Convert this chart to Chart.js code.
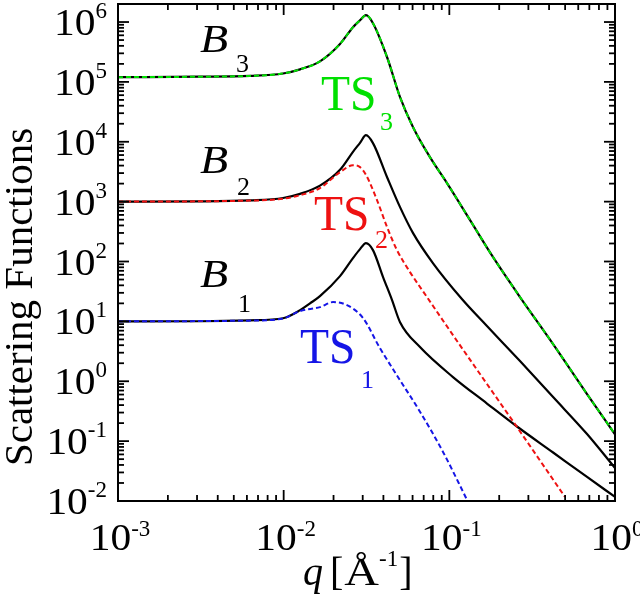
<!DOCTYPE html>
<html><head><meta charset="utf-8">
<script src="https://cdn.jsdelivr.net/npm/chart.js@4"></script>
<style>html,body{margin:0;padding:0;background:#fff;overflow:hidden}canvas{display:block}
#probe{position:absolute;left:-999px;top:0;font-family:"Liberation Serif";}
#probe i{font-style:italic}</style>
</head><body>
<span id="probe">10 <i>Bq</i> TS Å</span>
<canvas id="c" width="640" height="595"></canvas>
<script>
// ---- data ----
const qB3  = [0.001,0.00313,0.00627,0.00991,0.01256,0.01656,0.02188,0.0262,0.0289,0.0314,0.0346,0.0421,0.0504,0.0604,0.0764,0.0968,0.1334,0.1837,0.267,0.423,0.678,1.0];
const B3   = [1.2e5,1.22e5,1.26e5,1.38e5,1.62e5,2.2e5,4.3e5,8.2e5,1.07e6,1.3e6,9.55e5,2.58e5,5.56e4,1.75e4,5.53e3,2.04e3,491,118,25.5,4.18,0.611,0.13];
const qTS3 = [0.001,0.00313,0.00627,0.00991,0.01256,0.01656,0.02188,0.0262,0.0289,0.0314,0.0346,0.0421,0.0504,0.0604,0.0764,0.0968,0.1334,0.1837,0.267,0.423,0.678,1.0];
const TS3  = [1.2e5,1.22e5,1.26e5,1.38e5,1.62e5,2.2e5,4.3e5,8.2e5,1.07e6,1.3e6,9.55e5,2.58e5,5.56e4,1.75e4,5.53e3,2.04e3,491,118,25.5,4.18,0.611,0.13];

const qB2  = [0.001,0.00313,0.00627,0.00991,0.01256,0.01656,0.02188,0.0262,0.0289,0.0314,0.0346,0.0421,0.0504,0.0604,0.0796,0.1191,0.1687,0.267,0.423,0.678,1.0];
const B2   = [1000,1010,1050,1150,1350,1850,3400,6800,9600,12900,9500,2560,809,298,94,23.6,8.35,2.17,0.544,0.1315,0.0356];
const qTS2 = [0.001,0.00627,0.00991,0.01256,0.01656,0.01905,0.02188,0.0262,0.0289,0.0314,0.0366,0.0421,0.0483,0.0579,0.0733,0.1052,0.1687,0.256,0.338,0.499];
const TS2  = [1000,1040,1120,1280,1680,2280,3100,4060,3770,2800,1060,375,155,66.5,25.5,5.9,0.90,0.172,0.0563,0.0117];

const qB1  = [0.001,0.00313,0.00627,0.00991,0.01256,0.01442,0.01656,0.02188,0.0262,0.0289,0.0314,0.0346,0.0398,0.0451,0.0504,0.0665,0.1052,0.1687,0.256,0.423,0.678,1.0];
const B1   = [10,10.05,10.4,11.3,15.4,20,26.4,57,114,161,203,155,55,22.7,9.7,3.72,1.175,0.425,0.1755,0.0646,0.0252,0.0117];
const qTS1 = [0.001,0.00627,0.00991,0.01256,0.01656,0.01986,0.0241,0.0301,0.0381,0.0483,0.0665,0.0916,0.128];
const TS1  = [10,10.3,11.2,14.9,17.3,21,18.7,11.4,3.58,1.25,0.31,0.066,0.0104];

const xTickExps = [-3,-2,-1,0];
const yTickExps = [-2,-1,0,1,2,3,4,5,6];
const yTitle = 'Scattering Functions';
const curveLabels = [
  {main:'B', sub:'3', italic:true, color:'#000'},
  {main:'B', sub:'2', italic:true, color:'#000'},
  {main:'B', sub:'1', italic:true, color:'#000'},
  {main:'TS', sub:'3', italic:false, color:'#00e000'},
  {main:'TS', sub:'2', italic:false, color:'#ee1111'},
  {main:'TS', sub:'1', italic:false, color:'#1515e6'}
];
// ---- end data ----

const SERIF = '"Liberation Serif","Times New Roman",Times,serif';
const pts = (q, v) => q.map((x, i) => ({x, y: v[i]}));

function txt(ctx, s, x, y, font, color, align, sx) {
  ctx.save();
  ctx.font = font; ctx.fillStyle = color || '#000';
  ctx.textAlign = align || 'left'; ctx.textBaseline = 'alphabetic';
  ctx.translate(x, y); ctx.scale(sx || 1, 1);
  ctx.fillText(s, 0, 0);
  ctx.restore();
}
function w(ctx, s, font, sx) { ctx.save(); ctx.font = font; const r = ctx.measureText(s).width * (sx || 1); ctx.restore(); return r; }
const expStr = e => (e < 0 ? '-' + Math.abs(e) : String(e));

const decor = {
  id: 'decor',
  afterDraw(chart) {
    const ctx = chart.ctx, a = chart.chartArea, xs = chart.scales.x, ys = chart.scales.y;
    ctx.save();
    ctx.strokeStyle = '#000'; ctx.lineWidth = 2;
    ctx.strokeRect(a.left, a.top, a.right - a.left, a.bottom - a.top);
    ctx.lineWidth = 1.8;
    const tick = (x1, y1, x2, y2) => { ctx.beginPath(); ctx.moveTo(x1, y1); ctx.lineTo(x2, y2); ctx.stroke(); };
    for (let e = xTickExps[0]; e <= xTickExps[xTickExps.length - 1]; e++) {
      for (let k = 1; k <= 9; k++) {
        const v = k * Math.pow(10, e);
        if (v > xs.max * 1.0001) break;
        const px = xs.getPixelForValue(v), L = k === 1 ? 11 : 6;
        tick(px, a.bottom, px, a.bottom - L);
        tick(px, a.top, px, a.top + L);
      }
    }
    for (let e = yTickExps[0]; e <= yTickExps[yTickExps.length - 1]; e++) {
      for (let k = 1; k <= 9; k++) {
        const v = k * Math.pow(10, e);
        if (v >= ys.max * 0.999) break;
        const py = ys.getPixelForValue(v), L = k === 1 ? 11 : 6;
        tick(a.left, py, a.left + L, py);
        tick(a.right, py, a.right - L, py);
      }
    }
    const F10 = '37px ' + SERIF, FE = '23px ' + SERIF, SX = 1.12;
    yTickExps.forEach(e => {
      const py = ys.getPixelForValue(Math.pow(10, e));
      const es = expStr(e), we = w(ctx, es, FE);
      txt(ctx, es, 107, py - 4, FE, '#000', 'right');
      txt(ctx, '10', 107 - we, py + 13, F10, '#000', 'right', SX);
    });
    xTickExps.forEach(e => {
      const px = xs.getPixelForValue(Math.pow(10, e));
      const es = expStr(e), we = w(ctx, es, FE), w10 = w(ctx, '10', F10, SX);
      const x0 = px + 2 - (we + w10) / 2;
      txt(ctx, '10', x0, 550, F10, '#000', 'left', SX);
      txt(ctx, es, x0 + w10, 536, FE, '#000', 'left');
    });
    ctx.save();
    ctx.translate(32, 297); ctx.rotate(-Math.PI / 2);
    txt(ctx, yTitle, 0, 0, '41px ' + SERIF, '#000', 'center');
    ctx.restore();
    const FQ = 'italic 40px ' + SERIF, FT = '40px ' + SERIF;
    let xx = 303;
    txt(ctx, 'q', xx, 585, FQ); xx += w(ctx, 'q', FQ) + 7;
    txt(ctx, '[', xx, 585, FT); xx += w(ctx, '[', FT) + 1;
    txt(ctx, 'Å', xx, 585, FT, '#000', 'left', 1.2); xx += w(ctx, 'Å', FT, 1.2);
    txt(ctx, '-1', xx, 566, FE); xx += w(ctx, '-1', FE) + 1;
    txt(ctx, ']', xx, 585, FT);
    const pos = [
      [200, 52, 236, 72], [200, 173, 237, 195], [200, 287, 238, 312],
      [321, 110, 380, 130], [314, 230, 375, 248], [300, 363, 361, 388]
    ];
    curveLabels.forEach((c, i) => {
      const p = pos[i];
      const f = c.italic ? 'italic 40px ' + SERIF : '50px ' + SERIF;
      txt(ctx, c.main, p[0], p[1], f, c.color, 'left', c.italic ? 1.15 : 0.95);
      txt(ctx, c.sub, p[2], p[3], '26px ' + SERIF, c.color, 'left');
    });
    ctx.restore();
  }
};

const black = (q, v) => ({data: pts(q, v), borderColor: '#000', borderWidth: 2.2, order: 2, cubicInterpolationMode: 'monotone'});
const dashed = (q, v, col) => ({data: pts(q, v), borderColor: col, borderWidth: 2, borderDash: [5, 3], order: 1, cubicInterpolationMode: 'monotone'});

function build() {
  new Chart(document.getElementById('c'), {
    type: 'line',
    data: {
      datasets: [
        black(qB3, B3), black(qB2, B2), black(qB1, B1),
        dashed(qTS3, TS3, '#00e000'), dashed(qTS2, TS2, '#ee1111'), dashed(qTS1, TS1, '#1515e6')
      ]
    },
    options: {
      responsive: false, animation: false, devicePixelRatio: 1,
      layout: {padding: {left: 118, right: 25, top: 4, bottom: 94}},
      elements: {point: {radius: 0}, line: {fill: false}},
      scales: {
        x: {type: 'logarithmic', min: 0.001, max: 1, display: false},
        y: {type: 'logarithmic', min: 0.01, max: 2e6, display: false}
      },
      plugins: {legend: {display: false}, tooltip: {enabled: false}}
    },
    plugins: [decor]
  });
}
const loads = ['37px "Liberation Serif"', 'italic 40px "Liberation Serif"'].map(f => document.fonts.load(f).catch(() => null));
Promise.all(loads).then(build, build);
</script>
</body></html>
